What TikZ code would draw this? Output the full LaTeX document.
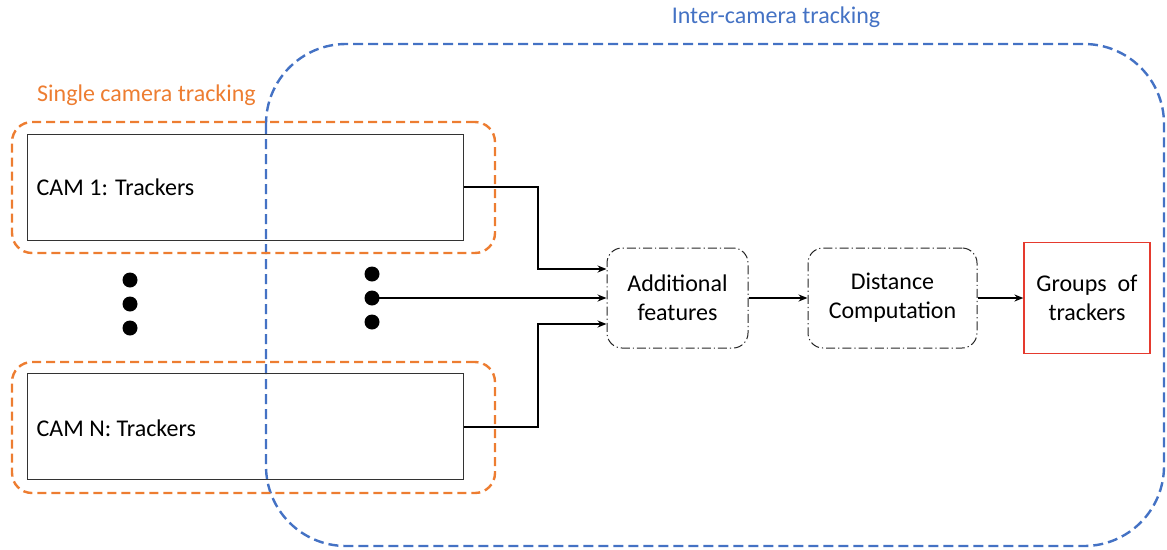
\documentclass[tikz,border=0pt]{standalone}
\usepackage{fontspec}
\setmainfont{Carlito}
\usetikzlibrary{arrows.meta}
\definecolor{frameblue}{HTML}{4472C4}
\definecolor{frameorange}{HTML}{ED7D31}
\definecolor{boxred}{HTML}{E53A2E}
\tikzset{
  txt/.style={font=\fontsize{24}{29}\selectfont},
  bluegroup/.style={draw=frameblue, line width=2.4pt, dash pattern=on 10pt off 5pt, rounded corners=80pt},
  orangegroup/.style={draw=frameorange, line width=2.4pt, dash pattern=on 9pt off 5pt, rounded corners=20pt,
    minimum width=483pt, minimum height=131pt, inner sep=0pt},
  cambox/.style={draw=black!80, line width=1pt, minimum width=436pt, minimum height=106pt, inner sep=0pt},
  stagebox/.style={draw=black!85, line width=1pt, dash pattern=on 9pt off 3pt on 1.2pt off 3pt,
    rounded corners=15pt, minimum height=100pt, inner sep=0pt, align=center, txt},
  outbox/.style={draw=boxred, line width=1.2pt, minimum width=126pt, minimum height=111pt,
    inner sep=0pt, align=center, txt},
  dot/.style={circle, fill=black, minimum size=15pt, inner sep=0pt},
  flow/.style={draw=black, line width=2pt, -{Stealth[length=9pt,width=7pt]}},
}
\begin{document}
\begin{tikzpicture}[x=1pt, y=-1pt]
\useasboundingbox (0,0) rectangle (1167,549);

% inter-camera frame and its title
\draw[bluegroup] (266,44) rectangle (1164,546);
\node[txt, text=frameblue] (intertitle) at (776,17) {Inter-camera tracking};

% single-camera frames
\node[orangegroup] (grp1) at (253.5,187.5) {};
\node[orangegroup] (grpN) at (253.5,427.5) {};
\node[txt, text=frameorange, anchor=west, inner sep=0pt] (singletitle) at (37,95) {Single camera tracking};

% per-camera tracker boxes
\node[cambox] (cam1) at (245,187) {};
\node[txt, anchor=west, inner sep=0pt] (cam1txt) at ([xshift=10pt]cam1.west) {CAM 1: Trackers};
\node[cambox] (camN) at (245,426.5) {};
\node[txt, anchor=west, inner sep=0pt] (camNtxt) at ([xshift=10pt,yshift=-2pt]camN.west) {CAM N: Trackers};

% ellipsis dots
\node[dot] (dl1) at (130,280) {};
\node[dot] (dl2) at (130,304) {};
\node[dot] (dl3) at (130,328) {};
\node[dot] (dr1) at (372,274) {};
\node[dot] (dr2) at (372,298) {};
\node[dot] (dr3) at (372,322) {};

% processing stages
\node[stagebox, minimum width=141pt] (feat) at (677.5,298) {Additional\\features};
\node[stagebox, minimum width=169pt] (dist) at (892.5,298) {Distance\\Computation};
\node[outbox] (groups) at (1087,298) {Groups~ of\\trackers};

% connectors (yshift is in page units, so positive moves up)
\coordinate (in1) at ([yshift=29pt]feat.west);
\coordinate (inN) at ([yshift=-26pt]feat.west);
\draw[flow] (cam1.east) -| (538,230) |- (in1);
\draw[flow] (dr2.center) -- (feat.west);
\draw[flow] (camN.east) -| (538,380) |- (inN);
\draw[flow] (feat.east) -- (dist.west);
\draw[flow] (dist.east) -- (groups.west);
\end{tikzpicture}
\end{document}
